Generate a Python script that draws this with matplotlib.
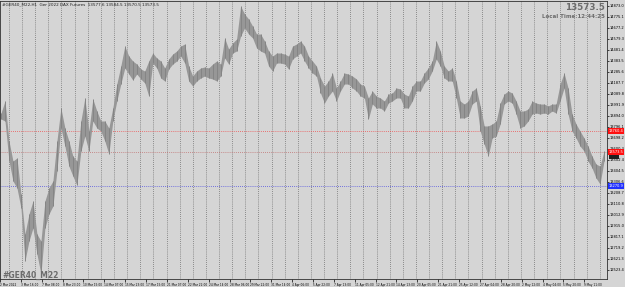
import matplotlib.pyplot as plt
import numpy as np

# hourly GER40 price band, sampled roughly every 7 bars (high / low)
highs = [13920, 14027, 13671, 13493, 13520, 13199, 12843, 13021, 13137, 12843,
         12781, 13137, 13253, 13315, 13671, 13965, 13787, 13671, 13537, 13493,
         13849, 14054, 13760, 14045, 13938, 13849, 13849, 13787, 13965, 14178,
         14338, 14516, 14427, 14383, 14356, 14312, 14294, 14383, 14454, 14410,
         14383, 14321, 14401, 14445, 14472, 14516, 14534, 14338, 14249, 14294,
         14321, 14330, 14321, 14356, 14383, 14356, 14588, 14490, 14543, 14579,
         14872, 14801, 14757, 14694, 14623, 14623, 14561, 14472, 14427, 14454,
         14454, 14445, 14427, 14516, 14534, 14561, 14516, 14427, 14383, 14338,
         14232, 14160, 14205, 14276, 14143, 14205, 14276, 14267, 14249, 14223,
         14178, 14160, 14054, 14116, 14071, 14054, 14027, 14089, 14098, 14143,
         14134, 14089, 14071, 14160, 14205, 14205, 14276, 14321, 14383, 14561,
         14472, 14338, 14294, 14321, 14205, 14027, 14000, 14027, 14116, 14143,
         13983, 13805, 13805, 13822, 13849, 14009, 14089, 14116, 14098, 14027,
         13938, 13938, 13956, 14027, 14009, 14000, 14000, 13983, 14000, 14000,
         14178, 14276, 14143, 13911, 13822, 13760, 13698, 13626, 13537, 13466,
         13448, 13582]
lows = [13867, 13849, 13493, 13315, 13253, 13075, 12603, 12781, 12897, 12665,
        12487, 12897, 13021, 13092, 13404, 13787, 13626, 13448, 13359, 13279,
        13582, 13715, 13582, 13849, 13787, 13760, 13671, 13555, 13849, 14027,
        14178, 14321, 14267, 14214, 14267, 14223, 14187, 14071, 14365, 14321,
        14232, 14205, 14312, 14356, 14383, 14427, 14365, 14205, 14160, 14205,
        14232, 14249, 14232, 14223, 14205, 14249, 14410, 14356, 14454, 14472,
        14605, 14677, 14623, 14588, 14499, 14472, 14454, 14338, 14294, 14365,
        14365, 14356, 14312, 14401, 14427, 14454, 14383, 14321, 14276, 14249,
        14098, 14009, 14071, 14116, 14027, 14116, 14178, 14178, 14143, 14116,
        14071, 14054, 13867, 14000, 13965, 13965, 13938, 14009, 14027, 14054,
        14054, 13965, 13965, 14027, 14116, 14116, 14187, 14223, 14294, 14401,
        14338, 14232, 14205, 14205, 14054, 13876, 13876, 13894, 14000, 14027,
        13760, 13644, 13537, 13698, 13715, 13822, 14000, 14027, 14009, 13911,
        13787, 13805, 13849, 13911, 13920, 13911, 13920, 13911, 13938, 13920,
        14027, 14143, 13911, 13760, 13698, 13626, 13582, 13493, 13431, 13342,
        13288, 13493]

price_ticks = [14873.0, 14775.1, 14677.2, 14579.3, 14481.4, 14383.5, 14285.6,
               14187.7, 14089.8, 13991.9, 13894.0, 13796.1, 13698.2, 13600.3,
               13502.4, 13404.5, 13306.6, 13208.7, 13110.8, 13012.9, 12915.0,
               12817.1, 12719.2, 12621.3, 12523.4]

date_labels = ["2 Mar 2022", "3 Mar 16:00", "7 Mar 08:00", "8 Mar 23:00",
               "10 Mar 15:00", "14 Mar 07:00", "15 Mar 23:00", "17 Mar 15:00",
               "21 Mar 07:00", "22 Mar 22:00", "24 Mar 14:00", "28 Mar 06:00",
               "29 Mar 22:00", "31 Mar 14:00", "4 Apr 06:00", "5 Apr 22:00",
               "7 Apr 13:00", "11 Apr 05:00", "12 Apr 21:00", "14 Apr 13:00",
               "20 Apr 05:00", "21 Apr 21:00", "25 Apr 12:00", "27 Apr 04:00",
               "28 Apr 20:00", "2 May 12:00", "4 May 04:00", "5 May 20:00",
               "9 May 11:00"]

red_level = 13760.4
bid = 13573.5
blue_level = 13270.9

bg = '#d5d5d5'
fig = plt.figure(figsize=(6.25, 2.87), dpi=100, facecolor=bg)
ax = fig.add_axes([0.0, 8 / 287, 607 / 625, 1 - 9 / 287])
ax.set_facecolor(bg)

idx = np.arange(len(highs))
ax.set_xlim(-0.25, len(highs) - 0.25)
ax.set_ylim(12443, 14917)

# vertical dotted grid
for gx in np.arange(0, 46) * 13.15 / 4 + 9 / 4 - 0.25:
    ax.axvline(gx, color='#727272', ls=(0, (1, 1.5)), lw=0.6, zorder=1)

ax.axhline(red_level, color='#f05050', ls=(0, (1, 1.5)), lw=0.6, zorder=1)
ax.axhline(bid, color='#c07070', ls=(0, (1, 1.5)), lw=0.6, zorder=1)
ax.axhline(blue_level, color='#5050e0', ls=(0, (1, 1.5)), lw=0.6, zorder=1)

ax.fill_between(idx, lows, highs, color='#979797', lw=0, zorder=2)
ax.vlines(idx, lows, highs, color='#858585', lw=0.7, zorder=3)

ax.yaxis.tick_right()
ax.set_yticks(price_ticks)
ax.set_yticklabels(['%.1f' % p for p in price_ticks])
ax.tick_params(axis='y', labelsize=2.6, length=1.2, pad=0.5, width=0.5)

ax.set_xticks(np.arange(len(date_labels)) * 20.9 / 4 - 0.25)
ax.set_xticklabels(date_labels, ha='left')
ax.tick_params(axis='x', labelsize=2.1, length=2.5, pad=0.6, width=0.5)

for s in ax.spines.values():
    s.set_linewidth(0.6)
    s.set_color('#303030')

tr = ax.get_yaxis_transform()
for val, fc in [(red_level, '#ff1010'), (bid, '#ff1010'), (blue_level, '#2030ff')]:
    ax.text(1.003, val, '%.1f' % val, transform=tr, fontsize=2.6, color='white',
            va='center', ha='left', clip_on=False, zorder=5,
            bbox=dict(boxstyle='square,pad=0.2', fc=fc, ec='none'))
ax.text(1.003, bid - 40, '          ', transform=tr, fontsize=2.2, va='center',
        ha='left', clip_on=False, zorder=4,
        bbox=dict(boxstyle='square,pad=0.1', fc='#202020', ec='none'))

fig.text(0.004, 0.99, '#GER40_M22,H1  Ger 2022 DAX Futures  13577.6 13584.5 13570.5 13573.5',
         fontsize=3.0, va='top', ha='left', color='#202020')
fig.text(605 / 625, 1 - 7 / 287, '13573.5', fontsize=6.3, fontweight='bold',
         color='#6c6c6c', ha='right', va='center')
fig.text(605 / 625, 1 - 16 / 287, 'Local Time:12:44:25', fontsize=4.0, fontweight='bold',
         color='#6c6c6c', ha='right', va='center')
fig.text(2 / 625, 1 - 275 / 287, '#GER40_M22', fontsize=5.5, fontweight='bold',
         color='#6c6c6c', ha='left', va='center')

fig.savefig('out.png', dpi=100, facecolor=bg)
